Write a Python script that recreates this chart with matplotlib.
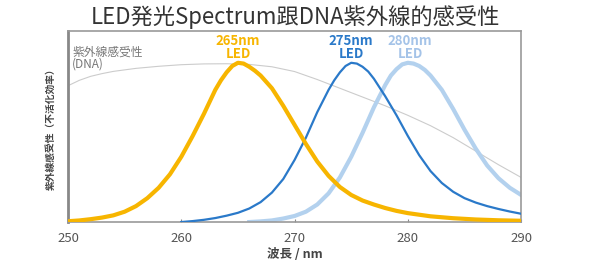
import numpy as np
from matplotlib import pyplot as plt

plt.rcParams['font.family'] = ['Noto Sans CJK JP', 'DejaVu Sans']

# curves (wavelength in nm, relative value)
wl_265 = [250, 251, 252, 253, 254, 255, 256, 257, 258, 259, 260, 261, 262, 263,
          263.5, 264, 264.5, 265, 265.5, 266, 266.5, 267, 268, 269, 270, 271,
          272, 273, 274, 275, 276, 277, 278, 279, 280, 282, 284, 286, 288, 290]
led_265 = [0.005, 0.010, 0.018, 0.028, 0.042, 0.065, 0.10, 0.15, 0.215, 0.30,
           0.41, 0.54, 0.68, 0.83, 0.89, 0.94, 0.98, 1.0, 0.995, 0.975, 0.95,
           0.92, 0.84, 0.73, 0.61, 0.49, 0.38, 0.29, 0.22, 0.17, 0.135, 0.11,
           0.088, 0.07, 0.056, 0.036, 0.024, 0.016, 0.011, 0.008]

wl_275 = [260, 261, 262, 263, 264, 265, 266, 267, 268, 269, 270, 271, 272, 273,
          273.5, 274, 274.5, 275, 275.5, 276, 276.5, 277, 278, 279, 280, 281,
          282, 283, 284, 285, 286, 287, 288, 289, 290]
led_275 = [0.0, 0.006, 0.014, 0.025, 0.04, 0.058, 0.085, 0.125, 0.185, 0.27,
           0.39, 0.53, 0.69, 0.83, 0.89, 0.94, 0.98, 1.0, 0.995, 0.975, 0.945,
           0.90, 0.79, 0.67, 0.54, 0.42, 0.32, 0.245, 0.19, 0.15, 0.122, 0.10,
           0.082, 0.066, 0.052]

wl_280 = [266, 267, 268, 269, 270, 271, 272, 273, 274, 275, 276, 277, 278,
          278.5, 279, 279.5, 280, 280.5, 281, 281.5, 282, 283, 284, 285, 286,
          287, 288, 289, 290]
led_280 = [0.0, 0.004, 0.01, 0.022, 0.038, 0.065, 0.11, 0.18, 0.28, 0.41, 0.56,
           0.72, 0.86, 0.92, 0.96, 0.99, 1.0, 0.995, 0.98, 0.955, 0.92, 0.83,
           0.71, 0.58, 0.46, 0.355, 0.275, 0.215, 0.17]

wl_dna = [250, 251, 252, 253, 254, 256, 258, 260, 262, 264, 266, 268, 270,
          272, 274, 276, 278, 280, 282, 284, 286, 288, 290]
dna = [0.856, 0.89, 0.915, 0.932, 0.946, 0.965, 0.978, 0.988, 0.993, 0.994,
       0.99, 0.975, 0.945, 0.895, 0.84, 0.785, 0.73, 0.67, 0.605, 0.53,
       0.445, 0.36, 0.28]

xticks = [250, 260, 270, 280, 290]

c_yel = '#f7b500'
c_blue = '#2a79c9'
c_lblue = '#b3d1ee'
c_gray = '#cccccc'

fig = plt.figure(figsize=(5.9, 2.6), dpi=100)
ax = fig.add_axes([0.1153, 0.146, 0.768, 0.735])

ax.plot(wl_dna, dna, color=c_gray, lw=0.8, zorder=1)
ax.plot(wl_280, led_280, color=c_lblue, lw=3.0, zorder=2)
ax.plot(wl_275, led_275, color=c_blue, lw=1.6, zorder=3)
ax.plot(wl_265, led_265, color=c_yel, lw=3.0, zorder=4)

ax.set_xlim(250, 290)
ax.set_ylim(0, 1.2)
ax.set_xticks(xticks)
ax.set_yticks([])
ax.tick_params(axis='x', direction='in', length=2, color='#888888',
               labelsize=9.5, labelcolor='#555555', pad=7)
for s in ax.spines.values():
    s.set_color('#999999')
    s.set_linewidth(1.2)
ax.spines['left'].set_linewidth(2)
ax.spines['left'].set_color('#888888')

ax.set_xlabel('波長 / nm', fontsize=9, fontweight='bold', color='#444444', labelpad=2)
ax.set_ylabel('紫外線感受性（不活化効率）', fontsize=7, fontweight='bold',
              color='#444444', labelpad=9)

ax.text(265, 1.095, '265nm\nLED', color=c_yel, fontsize=9.5, fontweight='bold',
        ha='center', va='center', linespacing=0.9)
ax.text(275, 1.095, '275nm\nLED', color=c_blue, fontsize=9.5, fontweight='bold',
        ha='center', va='center', linespacing=0.9)
ax.text(280.2, 1.095, '280nm\nLED', color='#a4c3e8', fontsize=9.5, fontweight='bold',
        ha='center', va='center', linespacing=0.9)
ax.text(250.35, 1.03, '紫外線感受性\n(DNA)', color='#777777', fontsize=8.5,
        ha='left', va='center', linespacing=0.95)

fig.text(0.5, 0.935, 'LED発光Spectrum跟DNA紫外線的感受性', ha='center', va='center',
         fontsize=16, color='#333333')

fig.savefig('out.png', dpi=100)
